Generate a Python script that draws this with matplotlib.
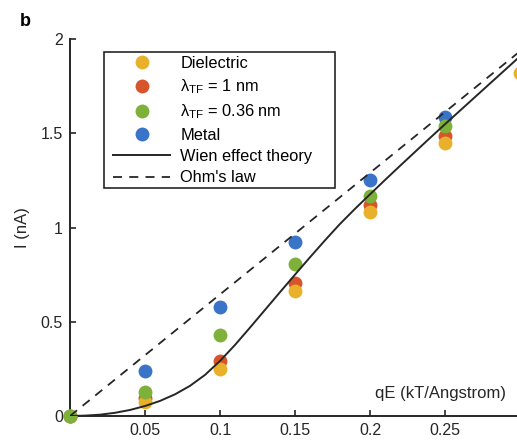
import numpy as np
import matplotlib
matplotlib.use('Agg')
import matplotlib.pyplot as plt
from matplotlib.patches import Rectangle

plt.rcParams['font.family'] = ['Liberation Sans', 'DejaVu Sans']
plt.rcParams['mathtext.fontset'] = 'custom'
plt.rcParams['mathtext.rm'] = 'Liberation Sans'
plt.rcParams['mathtext.it'] = 'Liberation Sans:italic'

# field strength (kT/Angstrom)
field = [0.0, 0.05, 0.1, 0.15, 0.2, 0.25]

# current (nA) for each wall model
dielectric = [0.0, 0.074, 0.25, 0.663, 1.082, 1.448]
tf_1nm = [0.0, 0.095, 0.29, 0.706, 1.12, 1.485]
tf_036nm = [0.0, 0.127, 0.43, 0.806, 1.167, 1.538]
metal = [0.0, 0.239, 0.578, 0.923, 1.252, 1.586]

# extra dielectric point at the edge of the panel
dielectric_edge_x = [0.3]
dielectric_edge_y = [1.82]

# Wien effect theory curve
wien_x = [0.0, 0.01, 0.02, 0.03, 0.04, 0.05, 0.06, 0.07, 0.08, 0.09, 0.10,
          0.11, 0.12, 0.13, 0.14, 0.15, 0.16, 0.17, 0.18, 0.19, 0.20,
          0.21, 0.22, 0.23, 0.24, 0.25, 0.26, 0.27, 0.28, 0.29, 0.30]
wien_y = [0.0, 0.002, 0.007, 0.017, 0.032, 0.053, 0.080, 0.115, 0.160, 0.218, 0.292,
          0.377, 0.469, 0.563, 0.657, 0.750, 0.842, 0.932, 1.019, 1.099, 1.176,
          1.252, 1.327, 1.401, 1.475, 1.548, 1.620, 1.692, 1.764, 1.836, 1.908]

# Ohm's law
ohm_x = [0.0, 0.3]
ohm_y = [0.0, 1.935]

yellow = '#E9B12B'
red = '#D6552A'
green = '#7EB13A'
blue = '#3A74C8'
ink = '#262626'

fig = plt.figure(figsize=(5.17, 4.42), dpi=100)
ax = fig.add_axes([70 / 517, 26 / 442, 450 / 517, 377 / 442])

ms = 10
lab_1nm = r'λ$_{\mathrm{TF}}$ = 1 nm'
lab_036 = r'λ$_{\mathrm{TF}}$ = 0.36 nm'
ax.plot(field, metal, 'o', color=blue, ms=ms, mec='none', zorder=3, clip_on=False, label='Metal')
ax.plot(field, tf_1nm, 'o', color=red, ms=ms, mec='none', zorder=2, clip_on=False, label=lab_1nm)
ax.plot(field, dielectric, 'o', color=yellow, ms=ms, mec='none', zorder=4, clip_on=False, label='Dielectric')
ax.plot(dielectric_edge_x, dielectric_edge_y, 'o', color=yellow, ms=ms, mec='none', zorder=4, clip_on=False)
ax.plot(field, tf_036nm, 'o', color=green, ms=ms, mec='none', zorder=5, clip_on=False, label=lab_036)
ax.plot(wien_x, wien_y, '-', color=ink, lw=1.4, zorder=6, label='Wien effect theory')
ax.plot(ohm_x, ohm_y, color=ink, lw=1.3, linestyle=(0, (5, 4)), zorder=6, label="Ohm's law")

ax.set_xlim(0, 0.3)
ax.set_ylim(0, 2)
ax.set_xticks([0.05, 0.1, 0.15, 0.2, 0.25])
ax.set_xticklabels(['0.05', '0.1', '0.15', '0.2', '0.25'])
ax.set_yticks([0, 0.5, 1, 1.5, 2])
ax.set_yticklabels(['0', '0.5', '1', '1.5', '2'])
ax.tick_params(direction='in', length=4, width=1.2, colors=ink, labelsize=11.5, pad=5)
for side in ['top', 'right']:
    ax.spines[side].set_visible(False)
for side in ['left', 'bottom']:
    ax.spines[side].set_linewidth(1.4)
    ax.spines[side].set_color(ink)

ax.set_ylabel('I (nA)', fontsize=12, color=ink, labelpad=8)
ax.text(0.247, 0.12, 'qE (kT/Angstrom)', fontsize=12, color=ink, ha='center', va='center')

# legend box drawn separately (wider than the entries, as in the original)
box = Rectangle((104 / 517, 1 - 188 / 442), 231 / 517, 136 / 442, transform=fig.transFigure,
                facecolor='white', edgecolor=ink, linewidth=1.2, zorder=7, clip_on=False)
ax.add_patch(box)

handles, labels = ax.get_legend_handles_labels()
order = ['Dielectric', lab_1nm, lab_036, 'Metal', 'Wien effect theory', "Ohm's law"]
hmap = dict(zip(labels, handles))
leg = ax.legend([hmap[l] for l in order], order, loc='upper left',
                bbox_to_anchor=(43 / 450, 360 / 377), borderaxespad=0,
                frameon=False, fontsize=11.8,
                handlelength=3.5, handletextpad=0.6, labelspacing=0.39,
                borderpad=0)
leg.set_zorder(8)

fig.text(20 / 517, 1 - 22 / 442, 'b', fontsize=13, fontweight='bold', ha='left', va='center')

fig.savefig('out.png', dpi=100)
